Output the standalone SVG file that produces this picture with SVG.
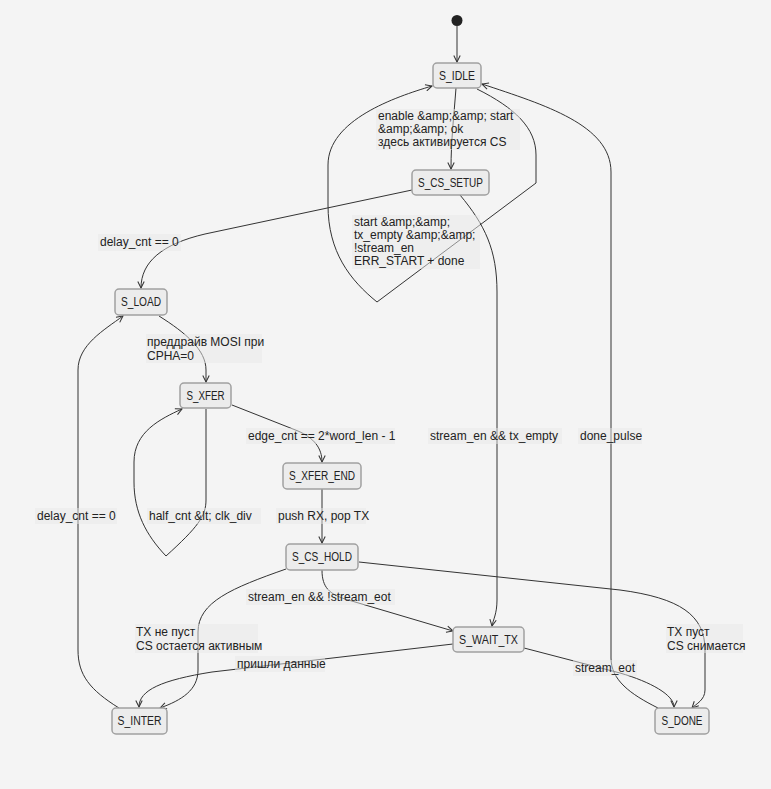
<svg xmlns="http://www.w3.org/2000/svg" width="771" height="789" viewBox="0 0 771 789">
<style>
.bg{fill:#f4f4f4}
.node rect{fill:#ececec;stroke:#a0a0a0;stroke-width:1.5}
.node text{font-family:"Liberation Sans",Arial,sans-serif;font-size:12px;fill:#222;text-anchor:middle;dominant-baseline:central}
.edge{fill:none;stroke:#333;stroke-width:1;marker-end:url(#arr)}
.lbg{fill:#e8e8e8;fill-opacity:0.5}
.lbl{font-family:"Liberation Sans",Arial,sans-serif;font-size:12px;fill:#222;dominant-baseline:central}
</style>
<defs>
<marker id="arr" viewBox="0 0 10 10" refX="9" refY="5" markerWidth="8" markerHeight="8" orient="auto" markerUnits="userSpaceOnUse">
<path d="M1,1 L9,5 L1,9" fill="none" stroke="#333" stroke-width="1.3"/>
</marker>
</defs>
<rect class="bg" x="0" y="0" width="771" height="789"/>
<g id="connectors">
<path class="edge" d="M457,26 L457,62"/>
<path class="edge" d="M456,88 C454,115 451,140 451,169"/>
<path class="edge" d="M477,89 C515,108 536,128 536,155 L536,183 L377,302 C350,280 328,252 328,205 L328,165 C328,120 395,97 432,86"/>
<path class="edge" d="M412,190 L205,234 C162,244 141,262 141,288"/>
<path class="edge" d="M460,195 C485,225 497,250 497,292 L497,600 C497,614 493,620 492,626"/>
<path class="edge" d="M658,708 C630,694 611,680 611,658 L611,172 C611,125 545,105 482,84"/>
<path class="edge" d="M159,316 C186,333 206,350 206,370 L206,382"/>
<path class="edge" d="M206,409 L206,500 C206,516 198,527 166,556 C146,535 134,512 134,482 L134,462 C134,432 160,419 182,409"/>
<path class="edge" d="M232,405 L298,431 C314,438 322,448 322,462"/>
<path class="edge" d="M322,489 L322,543"/>
<path class="edge" d="M286,569 C232,588 198,602 198,632 L198,670 C198,690 182,700 160,708"/>
<path class="edge" d="M322,570 C322,588 330,594 345,599 L453,631"/>
<path class="edge" d="M359,562 L620,590 C680,598 705,615 705,650 L705,690 C705,700 696,704 692,708"/>
<path class="edge" d="M453,644 L212,672 C162,680 139,690 139,707"/>
<path class="edge" d="M524,648 L620,673 C651,682 674,695 674,707"/>
<path class="edge" d="M119,708 C90,690 78,675 78,650 L78,370 C78,345 104,330 123,316"/>
</g>
<g id="labels">
<rect class="lbg" x="376" y="109" width="144" height="41"/>
<text class="lbl" x="378" y="116">enable &amp;amp;&amp;amp; start</text>
<text class="lbl" x="378" y="129">&amp;amp;&amp;amp; ok</text>
<text class="lbl" x="378" y="142">здесь активируется CS</text>
<rect class="lbg" x="352" y="215" width="128" height="54"/>
<text class="lbl" x="354" y="222">start &amp;amp;&amp;amp;</text>
<text class="lbl" x="354" y="235">tx_empty &amp;amp;&amp;amp;</text>
<text class="lbl" x="354" y="248">!stream_en</text>
<text class="lbl" x="354" y="261">ERR_START + done</text>
<rect class="lbg" x="98" y="234" width="83" height="17"/>
<text class="lbl" x="100" y="242">delay_cnt == 0</text>
<rect class="lbg" x="146" y="334" width="116" height="29"/>
<text class="lbl" x="147" y="342">преддрайв MOSI при</text>
<text class="lbl" x="147" y="356">CPHA=0</text>
<rect class="lbg" x="246" y="428" width="149" height="16"/>
<text class="lbl" x="248" y="436">edge_cnt == 2*word_len - 1</text>
<rect class="lbg" x="428" y="428" width="134" height="16"/>
<text class="lbl" x="430" y="436">stream_en &amp;&amp; tx_empty</text>
<rect class="lbg" x="578" y="428" width="64" height="16"/>
<text class="lbl" x="580" y="436">done_pulse</text>
<rect class="lbg" x="35" y="508" width="82" height="16"/>
<text class="lbl" x="37" y="516">delay_cnt == 0</text>
<rect class="lbg" x="147" y="508" width="114" height="16"/>
<text class="lbl" x="149" y="516">half_cnt &amp;lt; clk_div</text>
<rect class="lbg" x="276" y="508" width="90" height="16"/>
<text class="lbl" x="278" y="516">push RX, pop TX</text>
<rect class="lbg" x="246" y="589" width="149" height="16"/>
<text class="lbl" x="248" y="597">stream_en &amp;&amp; !stream_eot</text>
<rect class="lbg" x="135" y="624" width="123" height="29"/>
<text class="lbl" x="136" y="632">TX не пуст</text>
<text class="lbl" x="136" y="646">CS остается активным</text>
<rect class="lbg" x="666" y="624" width="77" height="29"/>
<text class="lbl" x="667" y="632">TX пуст</text>
<text class="lbl" x="667" y="646">CS снимается</text>
<rect class="lbg" x="235" y="656" width="90" height="16"/>
<text class="lbl" x="237" y="664">пришли данные</text>
<rect class="lbg" x="573" y="660" width="64" height="16"/>
<text class="lbl" x="575" y="668">stream_eot</text>
</g>
<g id="start"><circle cx="457" cy="20.5" r="5.5" fill="#222"/></g>
<g id="S_IDLE" class="node"><rect x="433" y="63" width="48" height="25" rx="4"/><text x="457" y="75.5" textLength="36" lengthAdjust="spacingAndGlyphs">S_IDLE</text></g>
<g id="S_CS_SETUP" class="node"><rect x="412" y="170" width="77" height="25" rx="4"/><text x="450.5" y="182.5" textLength="65" lengthAdjust="spacingAndGlyphs">S_CS_SETUP</text></g>
<g id="S_LOAD" class="node"><rect x="115" y="289" width="52" height="26" rx="4"/><text x="141" y="302" textLength="40" lengthAdjust="spacingAndGlyphs">S_LOAD</text></g>
<g id="S_XFER" class="node"><rect x="180" y="383" width="51" height="25" rx="4"/><text x="205.5" y="395.5" textLength="38" lengthAdjust="spacingAndGlyphs">S_XFER</text></g>
<g id="S_XFER_END" class="node"><rect x="283" y="463" width="78" height="26" rx="4"/><text x="322" y="476" textLength="66" lengthAdjust="spacingAndGlyphs">S_XFER_END</text></g>
<g id="S_CS_HOLD" class="node"><rect x="286" y="544" width="72" height="26" rx="4"/><text x="322" y="557" textLength="60" lengthAdjust="spacingAndGlyphs">S_CS_HOLD</text></g>
<g id="S_WAIT_TX" class="node"><rect x="453" y="627" width="71" height="25" rx="4"/><text x="488.5" y="639.5" textLength="59" lengthAdjust="spacingAndGlyphs">S_WAIT_TX</text></g>
<g id="S_INTER" class="node"><rect x="112" y="708" width="55" height="26" rx="4"/><text x="139.5" y="721" textLength="44" lengthAdjust="spacingAndGlyphs">S_INTER</text></g>
<g id="S_DONE" class="node"><rect x="655" y="708" width="54" height="26" rx="4"/><text x="682" y="721" textLength="41" lengthAdjust="spacingAndGlyphs">S_DONE</text></g>
</svg>
